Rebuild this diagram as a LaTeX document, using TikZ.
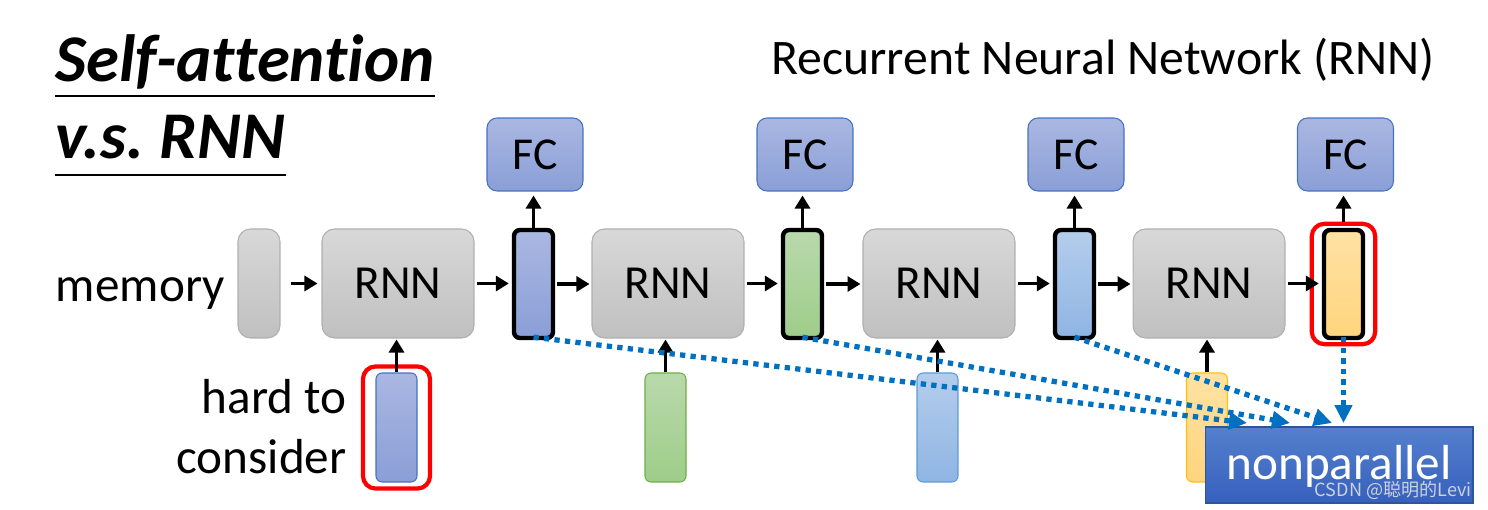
\documentclass[tikz,border=0pt]{standalone}
\usepackage{fontspec}
\setmainfont{Carlito}[Ligatures={TeX,NoCommon}]
\newfontfamily\cjk{Noto Sans CJK SC}
\usetikzlibrary{arrows.meta,fit}

\definecolor{grisarriba}{RGB}{216,216,216}
\definecolor{grisabajo}{RGB}{192,192,192}
\definecolor{grisborde}{RGB}{175,175,175}
\definecolor{azularriba}{RGB}{170,183,225}
\definecolor{azulabajo}{RGB}{138,159,215}
\definecolor{azulborde}{RGB}{68,114,196}
\definecolor{verdearriba}{RGB}{185,217,172}
\definecolor{verdeabajo}{RGB}{158,205,137}
\definecolor{verdeborde}{RGB}{112,173,71}
\definecolor{celestearriba}{RGB}{180,205,236}
\definecolor{celesteabajo}{RGB}{143,181,227}
\definecolor{celesteborde}{RGB}{91,155,213}
\definecolor{naranjaarriba}{RGB}{255,226,163}
\definecolor{naranjaabajo}{RGB}{255,212,125}
\definecolor{naranjaborde}{RGB}{255,192,0}
\definecolor{rojo}{RGB}{255,0,0}
\definecolor{azulpunto}{RGB}{0,112,192}
\definecolor{nparriba}{RGB}{84,128,206}
\definecolor{npabajo}{RGB}{54,96,188}
\definecolor{npborde}{RGB}{47,85,151}
\definecolor{marca}{RGB}{205,210,222}

\begin{document}
\begin{tikzpicture}[x=0.02cm, y=-0.02cm,
  texto/.style={inner sep=0pt, font=\fontsize{28}{34}\selectfont},
  titulo/.style={inner sep=0pt, font=\fontsize{38}{44}\selectfont\bfseries\itshape},
  bloque/.style={draw=grisborde, line width=0.6pt, rounded corners=0.25cm,
    top color=grisarriba, bottom color=grisabajo, inner sep=0pt,
    font=\fontsize{27}{32}\selectfont},
  fcbox/.style={draw=azulborde, line width=0.6pt, rounded corners=0.2cm,
    top color=azularriba, bottom color=azulabajo, minimum width=1.92cm,
    minimum height=1.46cm, font=\fontsize{26}{30}\selectfont},
  oculto/.style={draw=black, line width=2.5pt, rounded corners=0.12cm,
    minimum width=0.78cm, minimum height=2.16cm},
  entrada/.style={line width=0.6pt, rounded corners=0.12cm,
    minimum width=0.82cm, minimum height=2.18cm},
  marco/.style={draw=rojo, line width=2.4pt, rounded corners=0.25cm},
  flecha/.style={line width=2.2pt, -{Triangle[length=0.26cm,width=0.3cm]}},
  punteada/.style={draw=azulpunto, line width=3pt, dash pattern=on 3pt off 3pt,
    -{Triangle[length=0.36cm,width=0.34cm]}}]
  \useasboundingbox (0,0) rectangle (1488,510);

  % Titulo (izquierda)
  \node[titulo, anchor=base west] (T1) at (55,82) {Self-attention};
  \draw[line width=1.2pt] ([yshift=-0.28cm]T1.base west) -- ([yshift=-0.28cm]T1.base east);
  \node[titulo, anchor=base west] (T2) at (55,158) {v.s.\ RNN};
  \draw[line width=1.2pt] ([yshift=-0.34cm]T2.base west) -- ([yshift=-0.34cm]T2.base east);
  \node[texto, font=\fontsize{28.3}{34}\selectfont, anchor=base east] (RT) at (1435,75)
    {Recurrent Neural Network (RNN)};

  % Memoria y bloques RNN
  \node[texto, anchor=base east] (mem) at (225,301) {memory};
  \node[bloque, minimum width=0.84cm, minimum height=2.18cm] (M) at (259,283.5) {};
  \node[bloque, minimum width=3.04cm, minimum height=2.18cm] (R1) at (398,283.5) {RNN};
  \node[bloque, minimum width=3.04cm, minimum height=2.18cm] (R2) at (668,283.5) {RNN};
  \node[bloque, minimum width=3.04cm, minimum height=2.18cm] (R3) at (939,283.5) {RNN};
  \node[bloque, minimum width=3.04cm, minimum height=2.18cm] (R4) at (1209,283.5) {RNN};

  % Estados ocultos
  \node[oculto, top color=azularriba, bottom color=azulabajo] (H1) at (533.5,284) {};
  \node[oculto, top color=verdearriba, bottom color=verdeabajo] (H2) at (802.5,284) {};
  \node[oculto, top color=celestearriba, bottom color=celesteabajo] (H3) at (1074.5,284) {};
  \node[oculto, top color=naranjaarriba, bottom color=naranjaabajo] (H4) at (1343.5,284) {};

  % Capas FC
  \node[fcbox] (F1) at (535,154.5) {FC};
  \node[fcbox] (F2) at (805,154.5) {FC};
  \node[fcbox] (F3) at (1076,154.5) {FC};
  \node[fcbox] (F4) at (1345.5,154.5) {FC};

  % Entradas
  \node[entrada, draw=azulborde, top color=azularriba, bottom color=azulabajo] (X1) at (396.5,427.5) {};
  \node[entrada, draw=verdeborde, top color=verdearriba, bottom color=verdeabajo] (X2) at (665.5,427.5) {};
  \node[entrada, draw=celesteborde, top color=celestearriba, bottom color=celesteabajo] (X3) at (937.5,427.5) {};
  \node[entrada, draw=naranjaborde, top color=naranjaarriba, bottom color=naranjaabajo] (X4) at (1207,427.5) {};
  \node[texto, anchor=base east] (D1) at (347,413) {hard to};
  \node[texto, anchor=base east] (D2) at (347,473) {consider};

  % Marcos rojos
  \node[marco, fit=(X1), inner xsep=0.25cm, inner ysep=0.12cm] (C1) {};
  \node[marco, fit=(H4), inner xsep=0.2cm, inner ysep=0.08cm] (C4) {};

  % Flechas negras
  \draw[flecha, shorten <=0.2cm, shorten >=0.08cm] (M) -- (R1);
  \draw[flecha, shorten <=0.04cm, shorten >=0.06cm] (R1.east) -- (R1.east -| H1.west);
  \draw[flecha, shorten <=0.04cm, shorten >=0.04cm] (H1.east) -- (H1.east -| R2.west);
  \draw[flecha, shorten <=0.04cm, shorten >=0.06cm] (R2.east) -- (R2.east -| H2.west);
  \draw[flecha, shorten <=0.04cm, shorten >=0.04cm] (H2.east) -- (H2.east -| R3.west);
  \draw[flecha, shorten <=0.04cm, shorten >=0.06cm] (R3.east) -- (R3.east -| H3.west);
  \draw[flecha, shorten <=0.04cm, shorten >=0.04cm] (H3.east) -- (H3.east -| R4.west);
  \draw[flecha, shorten <=0.04cm, shorten >=0.06cm] (R4.east) -- (R4.east -| H4.west);
  \draw[flecha, shorten >=0.08cm] (H1.north) -- (H1.north |- F1.south);
  \draw[flecha, shorten >=0.08cm] (H2.north) -- (H2.north |- F2.south);
  \draw[flecha, shorten >=0.08cm] (H3.north) -- (H3.north |- F3.south);
  \draw[flecha, shorten >=0.08cm] (C4.north) -- (C4.north |- F4.south);
  \draw[flecha, shorten >=0.02cm] (X1.north) -- (X1.north |- R1.south);
  \draw[flecha, shorten >=0.02cm] (X2.north) -- (X2.north |- R2.south);
  \draw[flecha, shorten >=0.02cm] (X3.north) -- (X3.north |- R3.south);
  \draw[flecha, shorten >=0.02cm] (X4.north) -- (X4.north |- R4.south);

  % Caja nonparallel
  \node[draw=npborde, line width=0.6pt, top color=nparriba, bottom color=npabajo,
    minimum width=5.36cm, minimum height=1.52cm, text=white, text depth=0.12cm,
    font=\fontsize{28}{34}\selectfont] (NP) at (1339,465) {nonparallel};
  \node[anchor=base east, inner sep=0pt, text=marca, font=\cjk\fontsize{10.3}{12}\selectfont]
    (W) at (1472,496) {CSDN @聪明的Levi};

  % Flechas punteadas
  \coordinate (P1) at (1247,423);
  \coordinate (P2) at (1290,423);
  \coordinate (P3) at (1332,423);
  \draw[punteada] ([yshift=0.06cm]H1.south) -- (P1);
  \draw[punteada] ([yshift=0.06cm]H2.south) -- (P2);
  \draw[punteada] ([yshift=0.06cm]H3.south) -- (P3);
  \draw[punteada] ([yshift=0.06cm]H4.south) -- (H4.south |- P3);
\end{tikzpicture}
\end{document}
